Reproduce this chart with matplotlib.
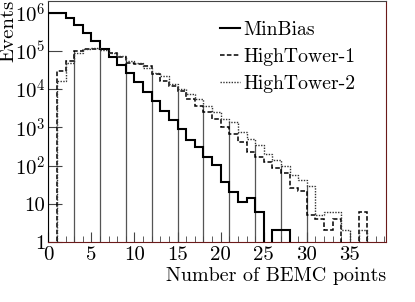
import numpy as np
import matplotlib.pyplot as plt

plt.rcParams["font.family"] = "cmr10"
plt.rcParams["mathtext.fontset"] = "cm"
plt.rcParams["axes.formatter.use_mathtext"] = True

# bin contents, one bin per integer number of BEMC points (0..38)
minbias = [1.0e6, 9.7e5, 7.4e5, 4.8e5, 3.0e5, 1.8e5, 1.15e5, 7.0e4, 4.3e4, 2.6e4,
           1.5e4, 8.6e3, 4.8e3, 2.75e3, 1.58e3, 9.2e2, 4.8e2, 3.0e2, 1.7e2, 106,
           37, 20, 11, 14, 6, 0, 2, 2, 0, 0,
           0, 0, 0, 0, 0, 0, 0, 0, 0]
hightower1 = [0, 3.0e4, 5.5e4, 1.0e5, 1.1e5, 1.1e5, 1.1e5, 8.9e4, 7.0e4, 4.9e4,
              4.6e4, 4.0e4, 2.5e4, 1.66e4, 1.23e4, 9.1e3, 5.5e3, 3.7e3, 2.5e3, 1.7e3,
              1.05e3, 680, 410, 230, 167, 123, 85, 63, 26, 21,
              5, 4, 2, 4, 0, 0, 6, 0, 0]
hightower2 = [0, 1.66e4, 4.9e4, 8.9e4, 1.1e5, 1.2e5, 1.07e5, 8.9e4, 7.4e4, 5.5e4,
              4.9e4, 3.6e4, 2.7e4, 2.2e4, 1.4e4, 1.0e4, 7.4e3, 5.5e3, 3.7e3, 2.5e3,
              1.7e3, 1.4e3, 750, 500, 340, 200, 140, 96, 56, 41,
              29, 5, 6, 6, 2, 0, 2, 0, 0]
edges = np.arange(len(minbias) + 1)
marks = [3, 6, 9, 12, 15, 18, 21, 24, 27, 30]

fig = plt.figure(figsize=(4.15, 3.02), dpi=100)
ax = fig.add_axes([48.3 / 415, 60 / 302, (385.7 - 48.3) / 415, 241 / 302])
ax.set_yscale("log", nonpositive="clip")

for m in marks:
    top = max(hightower1[m], hightower2[m])
    ax.plot([m, m], [1, top], color="#555555", lw=0.9, zorder=1)

ax.stairs(minbias, edges, baseline=0, color="black", lw=1.5, label="MinBias", zorder=3)
ax.stairs(hightower1, edges, baseline=0, color="black", lw=1.1,
          linestyle=(0, (3, 1.5)), label="HighTower-1", zorder=3)
ax.stairs(hightower2, edges, baseline=0, color="#333333", lw=1.0,
          linestyle=(0, (1, 1)), label="HighTower-2", zorder=3)

ax.set_xlim(0, 39.15)
ax.set_ylim(1, 2.02e6)

ax.set_xticks(range(0, 40, 5))
ax.set_xticks(range(0, 40), minor=True)
ax.set_xticklabels([str(v) for v in range(0, 40, 5)])
ax.set_yticks([1, 10, 1e2, 1e3, 1e4, 1e5, 1e6])
ax.set_yticklabels(["1", "10", "$10^{2}$", "$10^{3}$", "$10^{4}$", "$10^{5}$", "$10^{6}$"])
ax.tick_params(axis="both", which="both", direction="in", top=False, right=False,
               labelsize=15, color="#444444")
ax.tick_params(axis="x", which="major", length=7, pad=3)
ax.tick_params(axis="x", which="minor", length=4)
ax.tick_params(axis="y", which="major", length=10, pad=2)
ax.tick_params(axis="y", which="minor", length=5)

for s in ["bottom", "right"]:
    ax.spines[s].set_color("#6b1a1a")
ax.spines["left"].set_color("#222222")
ax.spines["top"].set_color("#444444")

ax.set_xlabel("Number of BEMC points", fontsize=14.4, loc="right", labelpad=2)
fig.text(8 / 415, 1.0, "Events", rotation=90, ha="center", va="top", fontsize=15)

leg = ax.legend(loc="upper right", bbox_to_anchor=(0.935, 0.95), borderaxespad=0,
                frameon=False, fontsize=14.2, handlelength=1.0,
                handletextpad=0.2, labelspacing=0.45)

fig.savefig("out.png", dpi=100)
